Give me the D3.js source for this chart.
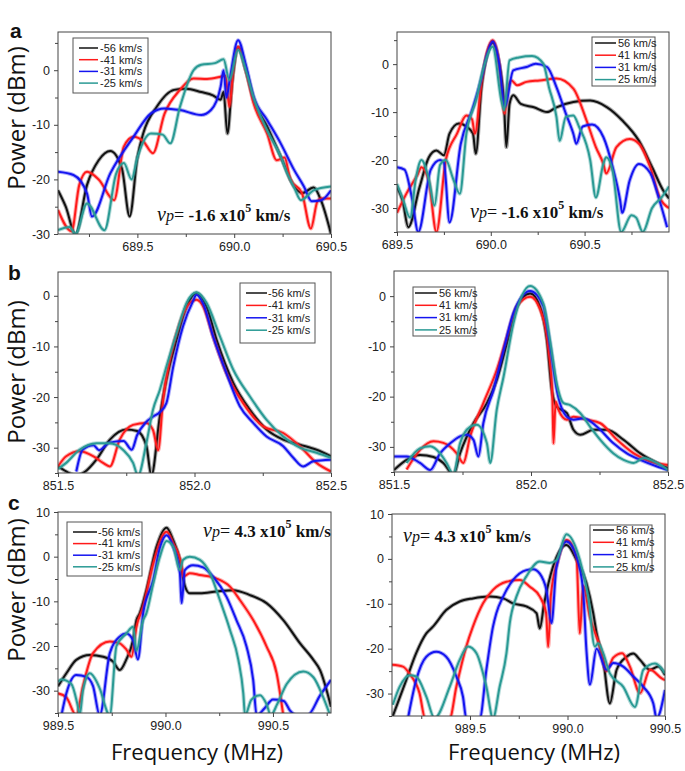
<!DOCTYPE html>
<html><head><meta charset="utf-8">
<script src="https://cdn.jsdelivr.net/npm/d3@7"></script>
<style>body{margin:0;background:#fff}svg{display:block}</style>
</head><body><svg id="c" width="685" height="771"></svg>
<script>
// ---------- DATA ----------
const labelsNeg = ["-56 km/s", "-41 km/s", "-31 km/s", "-25 km/s"];
const labelsPos = ["56 km/s", "41 km/s", "31 km/s", "25 km/s"];
const seriesColors = ["#111111", "#ff1a1a", "#1414f0", "#2a9a94"];
const yLabel = "Power (dBm)";
const xLabel = "Frequency (MHz)";
const panelLetters = ["a", "b", "c"];
const vpA = "-1.6 x10", vpC = "4.3 x10";

const xTicksA1 = [689.5, 690.0, 690.5], xMinorA1 = [689.25, 689.75, 690.25];
const xTicksA2 = [689.5, 690.0, 690.5], xMinorA2 = [689.75, 690.25, 690.75];
const xTicksB = [851.5, 852.0, 852.5], xMinorB = [851.75, 852.25];
const xTicksC1 = [989.5, 990.0, 990.5], xMinorC1 = [989.75, 990.25, 990.75];
const xTicksC2 = [989.5, 990.0, 990.5], xMinorC2 = [989.25, 989.75, 990.25];
const yTicksA = [-30, -20, -10, 0], yMinorA = [-35, -25, -15, -5, 5];
const yTicksB = [-30, -20, -10, 0], yMinorB = [-35, -25, -15, -5];
const yTicksC = [-30, -20, -10, 0, 10], yMinorC = [-35, -25, -15, -5, 5];

// panel a, left (vp = -1.6e5, negative speeds)
const a1Black = [[689.09,-22],[689.13,-25],[689.18,-30],[689.24,-21],[689.30,-16.5],[689.36,-14.8],[689.42,-18],[689.46,-26.8],[689.50,-16],[689.53,-11.6],[689.60,-6.7],[689.69,-3.6],[689.75,-3.4],[689.83,-4],[689.89,-4.6],[689.93,-5.4],[689.945,-4],[689.965,-11.6],[689.99,-2],[690.02,4.2],[690.06,0],[690.10,-5.4],[690.17,-10.3],[690.24,-15.8],[690.31,-21.3],[690.35,-22.5],[690.41,-21.5],[690.45,-24],[690.50,-30]];
const a1Red = [[689.09,-25.6],[689.16,-29.5],[689.20,-21],[689.24,-18.6],[689.30,-20],[689.38,-23.8],[689.43,-14],[689.48,-12.2],[689.53,-13],[689.58,-15.2],[689.64,-8],[689.72,-3.6],[689.79,-1.5],[689.86,-1.6],[689.93,-1.2],[689.955,-1],[689.975,-6.7],[689.995,0],[690.02,4.3],[690.06,0],[690.10,-6],[690.17,-11.6],[690.22,-16.5],[690.26,-16],[690.29,-20],[690.35,-22.5],[690.396,-29],[690.43,-24],[690.45,-23.5],[690.50,-23.5]];
const a1Blue = [[689.09,-18.6],[689.17,-19.2],[689.24,-22.6],[689.265,-26.8],[689.36,-18.9],[689.48,-12.2],[689.57,-7.9],[689.64,-7],[689.72,-7.3],[689.83,-8.2],[689.88,-7.3],[689.93,-3],[689.945,0],[689.96,-5],[689.98,-1],[690.02,5.5],[690.06,1],[690.10,-4.8],[690.17,-9.1],[690.24,-13.4],[690.31,-18.3],[690.36,-21.3],[690.40,-24],[690.45,-23.8],[690.50,-22]];
const a1Teal = [[689.09,-29.3],[689.15,-28.7],[689.18,-30],[689.24,-24.4],[689.33,-29.3],[689.39,-19],[689.43,-17],[689.47,-20],[689.50,-16],[689.57,-11.6],[689.63,-11.8],[689.67,-13.4],[689.72,-6.7],[689.79,0],[689.83,1],[689.90,1.3],[689.945,2],[689.975,-1.8],[690.02,3.7],[690.06,0],[690.10,-5],[690.17,-11],[690.24,-15.8],[690.275,-19],[690.31,-21.5],[690.345,-23.8],[690.41,-22],[690.50,-21.3]];

// panel a, right (positive speeds)
const a2Black = [[689.5,-25.7],[689.53,-28.5],[689.56,-34],[689.62,-25.7],[689.67,-19.4],[689.71,-18],[689.75,-19],[689.78,-14.5],[689.83,-12.4],[689.87,-13],[689.905,-14.5],[689.92,-18.7],[689.95,-5],[689.98,2],[690.01,4.5],[690.04,1],[690.07,-8],[690.083,-17.3],[690.10,-8.3],[690.12,-6.5],[690.16,-8.3],[690.23,-9],[690.30,-10],[690.35,-9],[690.44,-7.9],[690.53,-7.6],[690.62,-9],[690.70,-11.7],[690.79,-16],[690.86,-21.5],[690.92,-26.4],[690.95,-28]];
const a2Red = [[689.5,-31],[689.55,-27],[689.61,-23],[689.63,-21.5],[689.67,-24.5],[689.71,-35],[689.76,-20],[689.82,-14.5],[689.87,-10.7],[689.90,-11.5],[689.915,-14.5],[689.95,-4],[689.98,2.5],[690.01,5],[690.045,0],[690.074,-10.3],[690.09,-5.5],[690.11,-3.4],[690.14,-4.4],[690.19,-3.7],[690.26,-3.4],[690.35,-3],[690.44,-5.1],[690.51,-11.7],[690.56,-17.3],[690.60,-20.8],[690.615,-22.8],[690.67,-17.3],[690.74,-15.6],[690.79,-16.6],[690.85,-21.5],[690.90,-27.8],[690.95,-30]];
const a2Blue = [[689.5,-21.5],[689.54,-22],[689.58,-28],[689.613,-35],[689.68,-22],[689.73,-20],[689.75,-20.5],[689.78,-33],[689.84,-16.6],[689.90,-9.6],[689.95,-3],[689.98,2],[690.01,4.7],[690.045,0],[690.074,-8.9],[690.12,-1.3],[690.19,-0.6],[690.24,0.1],[690.30,-0.6],[690.35,-4.8],[690.40,-10.3],[690.44,-14.5],[690.456,-16.6],[690.49,-13],[690.54,-12.6],[690.60,-15.2],[690.65,-21.5],[690.69,-28.5],[690.70,-31],[690.74,-24.3],[690.79,-20.8],[690.85,-22.7],[690.90,-28.5],[690.94,-34]];
const a2Teal = [[689.5,-25],[689.53,-28],[689.57,-32],[689.60,-24],[689.63,-20],[689.67,-24],[689.70,-29.5],[689.73,-21],[689.76,-20],[689.80,-24],[689.835,-27],[689.87,-14.5],[689.92,-7.7],[689.96,-1],[690.01,3.6],[690.057,-7.7],[690.071,-9.6],[690.10,0.8],[690.15,1.4],[690.22,1.7],[690.28,0.1],[690.31,-4.8],[690.35,-11],[690.367,-16],[690.40,-11],[690.44,-10.7],[690.47,-13],[690.53,-20],[690.56,-27.8],[690.60,-20.8],[690.615,-19.4],[690.65,-22.4],[690.695,-35],[690.75,-31.5],[690.775,-32],[690.81,-35],[690.86,-30],[690.91,-27.8],[690.95,-25.5]];

// panel b, left
const b1Black = [[851.5,-33.7],[851.53,-34.7],[851.567,-35.5],[851.60,-34.7],[851.64,-32.4],[851.69,-28.4],[851.75,-26.4],[851.79,-26.7],[851.824,-29.7],[851.842,-35.5],[851.873,-23.8],[851.897,-16.6],[851.934,-8.7],[851.971,-2.1],[852.007,0.5],[852.044,-2.1],[852.081,-8.7],[852.142,-17.2],[852.203,-22.5],[852.264,-26.4],[852.325,-28.4],[852.386,-29.4],[852.447,-30.4],[852.5,-31.7]];
const b1Red = [[851.5,-33.7],[851.53,-31.7],[851.58,-30.7],[851.63,-31.7],[851.665,-33],[851.69,-33.7],[851.726,-28.4],[851.775,-25.5],[851.824,-25.1],[851.848,-26.5],[851.867,-30.5],[851.885,-20.5],[851.91,-12.6],[851.946,-5.4],[851.983,-1.4],[852.007,-0.8],[852.032,-2.1],[852.068,-8],[852.117,-15.3],[852.178,-21.2],[852.252,-25.8],[852.325,-27.1],[852.386,-29.7],[852.447,-33],[852.5,-34.7]];
const b1Blue = [[851.567,-34.7],[851.59,-30.4],[851.63,-29.5],[851.65,-30.5],[851.689,-29],[851.74,-28.7],[851.77,-30.4],[851.79,-27.5],[851.82,-25.1],[851.85,-23.8],[851.873,-23],[851.897,-21.2],[851.922,-14],[851.958,-6],[851.995,-1],[852.007,0.2],[852.032,-1.6],[852.068,-8],[852.117,-15.3],[852.166,-21.8],[852.215,-25.1],[852.264,-27.8],[852.325,-29.7],[852.362,-32],[852.398,-33.7],[852.435,-32.7],[852.5,-32.4]];
const b1Teal = [[851.5,-34.2],[851.53,-33],[851.579,-30.4],[851.641,-29.1],[851.689,-29.1],[851.738,-30.4],[851.775,-33],[851.793,-35.5],[851.824,-29],[851.848,-22.5],[851.873,-18.6],[851.897,-14],[851.934,-7.4],[851.971,-1.4],[852.007,0.7],[852.044,-1.4],[852.093,-8],[852.142,-14.6],[852.203,-19.9],[852.264,-24.5],[852.325,-27.8],[852.386,-30],[852.447,-31],[852.5,-32]];

// panel b, right
const b2Black = [[851.5,-34.6],[851.546,-32.6],[851.595,-31.6],[851.644,-32],[851.68,-33.2],[851.717,-35.5],[851.741,-31.3],[851.79,-25.3],[851.839,-21.3],[851.875,-16.7],[851.912,-9.4],[851.948,-2.1],[851.997,0.5],[852.033,-2.1],[852.058,-8.7],[852.076,-18.7],[852.094,-22],[852.131,-23.3],[852.155,-26.6],[852.18,-27.6],[852.228,-26.6],[852.277,-26.6],[852.338,-28.6],[852.399,-31.3],[852.46,-33.2],[852.5,-34.2]];
const b2Red = [[851.546,-34.5],[851.595,-30.6],[851.644,-28.9],[851.68,-29.2],[851.729,-31.3],[851.753,-33.2],[851.778,-27.9],[851.826,-21.3],[851.875,-14.7],[851.912,-8.1],[851.948,-2.1],[851.997,-0.1],[852.033,-2.6],[852.064,-10.7],[852.078,-20],[852.082,-29.3],[852.09,-21],[852.1,-22.6],[852.131,-24.6],[852.155,-24],[852.204,-24.6],[852.253,-25.3],[852.314,-28.6],[852.375,-31.3],[852.435,-32.9],[852.5,-33.6]];
const b2Blue = [[851.5,-31.9],[851.546,-31.9],[851.595,-33.2],[851.632,-34.6],[851.668,-31.3],[851.705,-29.3],[851.741,-27.9],[851.765,-27.6],[851.79,-28.6],[851.808,-31.9],[851.826,-25.3],[851.863,-18.7],[851.9,-10.7],[851.936,-3.4],[851.997,1],[852.045,-2],[852.07,-10],[852.094,-18.7],[852.131,-24],[852.155,-24.6],[852.192,-24.3],[852.241,-26],[852.301,-29.3],[852.35,-31.3],[852.399,-32.6],[852.46,-33.9],[852.5,-34.6]];
const b2Teal = [[851.546,-33.2],[851.595,-30.3],[851.632,-29.9],[851.668,-31.3],[851.692,-33.2],[851.717,-35.5],[851.741,-29.3],[851.778,-26],[851.802,-25.6],[851.839,-29.3],[851.851,-33.2],[851.875,-22.6],[851.9,-16],[851.936,-5.4],[851.997,2],[852.045,-1.5],[852.07,-9],[852.094,-17.4],[852.119,-21.3],[852.143,-21.7],[852.18,-23.3],[852.216,-26],[852.253,-28.6],[852.301,-31.3],[852.338,-32.6],[852.375,-33.2],[852.411,-32.2],[852.46,-33.2],[852.5,-34.6]];

// panel c, left (vp = 4.3e5)
const c1Black = [[989.5,-29],[989.539,-26.1],[989.585,-23.1],[989.648,-22],[989.71,-22.4],[989.756,-23.5],[989.787,-25.4],[989.818,-23],[989.849,-18.7],[989.865,-14.2],[989.88,-12.7],[989.911,-7.5],[989.958,2.2],[990.005,6.5],[990.036,3.7],[990.067,-0.7],[990.09,-6.5],[990.113,-8.2],[990.16,-8.2],[990.238,-7.8],[990.315,-7.5],[990.393,-8.6],[990.47,-10.4],[990.548,-14.2],[990.626,-19.4],[990.688,-23.1],[990.719,-25.4],[990.77,-33.6]];
const c1Red = [[989.5,-30.6],[989.539,-31.5],[989.585,-35.5],[989.616,-29],[989.663,-21.6],[989.741,-19],[989.787,-19.4],[989.818,-20.8],[989.842,-22.4],[989.865,-15.7],[989.896,-11.2],[989.943,-1.5],[990.005,5.6],[990.036,3],[990.075,-2.2],[990.082,-4.5],[990.113,-3.7],[990.16,-4.1],[990.238,-4.9],[990.3,-6.7],[990.346,-9.7],[990.408,-14.2],[990.47,-20.1],[990.517,-26.1],[990.548,-35.5]];
const c1Blue = [[989.516,-35.5],[989.539,-30.6],[989.585,-26.5],[989.632,-26.9],[989.663,-29],[989.694,-35.5],[989.741,-21.6],[989.787,-17.9],[989.818,-17.2],[989.849,-18.7],[989.872,-23],[989.896,-12.7],[989.943,-5.2],[989.974,2],[990.005,4.8],[990.036,2.2],[990.067,-3.7],[990.075,-10.4],[990.09,-3],[990.128,-1.9],[990.175,-2.4],[990.222,-4.5],[990.284,-9],[990.33,-14.2],[990.377,-20.1],[990.408,-27.6],[990.424,-35.5],[990.46,-34],[990.5,-32],[990.55,-32.3],[990.58,-34.5],[990.61,-35.5],[990.66,-35.5],[990.72,-31],[990.77,-27.6]];
const c1Teal = [[989.5,-28],[989.516,-27.5],[989.562,-28.5],[989.59,-33],[989.601,-35.5],[989.616,-30],[989.648,-26.1],[989.68,-28],[989.694,-29.5],[989.741,-35.5],[989.772,-20],[989.818,-17.2],[989.849,-15.7],[989.865,-21],[989.896,-14.2],[989.911,-12.7],[989.943,-6],[989.974,0],[990.005,3.5],[990.036,2.2],[990.067,-3],[990.082,-0.7],[990.113,0],[990.16,-0.7],[990.207,-3.7],[990.253,-9.7],[990.3,-16.4],[990.339,-23.1],[990.362,-30.6],[990.37,-35.5],[990.4,-32],[990.44,-31],[990.47,-33],[990.49,-35.5],[990.52,-33],[990.564,-28.5],[990.641,-25.7],[990.688,-27],[990.734,-31.5],[990.766,-35.5]];

// panel c, right
const c2Black = [[989.104,-35],[989.13,-32],[989.173,-27],[989.224,-21],[989.276,-16.6],[989.31,-15.1],[989.378,-11.4],[989.447,-9.5],[989.515,-8.8],[989.601,-8.4],[989.67,-8.8],[989.721,-9.9],[989.789,-10.6],[989.841,-12.1],[989.858,-15.5],[989.88,-10],[989.926,-1.7],[989.995,3.1],[990.046,-0.2],[990.097,-5.4],[990.132,-12.1],[990.149,-16.5],[990.183,-22.5],[990.217,-32.2],[990.252,-24.7],[990.303,-21.8],[990.337,-21.1],[990.372,-22.5],[990.423,-24.7],[990.466,-24],[990.5,-25.9]];
const c2Red = [[989.099,-23.6],[989.156,-24],[989.19,-25.6],[989.241,-29.9],[989.27,-35.5],[989.396,-35.5],[989.43,-28.5],[989.481,-19.5],[989.515,-15.1],[989.567,-9.9],[989.618,-6.9],[989.687,-5.1],[989.755,-4.7],[989.807,-6.2],[989.858,-8.4],[989.89,-12],[989.901,-19.6],[989.915,-8],[989.95,-0.5],[989.995,4.2],[990.046,0.5],[990.063,-16.6],[990.08,-6],[990.115,-13],[990.166,-19.5],[990.2,-25],[990.235,-22],[990.28,-21],[990.32,-24],[990.372,-29.9],[990.423,-24.7],[990.483,-26.6],[990.5,-27]];
const c2Blue = [[989.182,-35.5],[989.224,-27],[989.276,-21.8],[989.327,-20.7],[989.378,-21.8],[989.43,-26.2],[989.464,-30.7],[989.481,-35.5],[989.55,-35.5],[989.584,-24.7],[989.618,-15.1],[989.635,-12.1],[989.67,-8.4],[989.721,-4.7],[989.789,-2.5],[989.824,-2.3],[989.858,-3.3],[989.892,-7],[989.918,-14.3],[989.943,-2],[989.995,3.9],[990.046,0.5],[990.08,-7],[990.097,-20.3],[990.115,-28],[990.149,-20],[990.2,-24.7],[990.235,-23.2],[990.286,-24],[990.337,-26.2],[990.389,-28.5],[990.44,-32.2],[990.457,-35.5],[990.5,-29.2]];
const c2Teal = [[989.104,-32.5],[989.139,-28.5],[989.19,-25.9],[989.224,-26.2],[989.276,-30.7],[989.318,-35.5],[989.396,-28.5],[989.447,-22.5],[989.49,-19.5],[989.533,-21],[989.584,-28.5],[989.618,-35.5],[989.652,-28.5],[989.687,-21],[989.704,-14.3],[989.738,-8.4],[989.789,-3.9],[989.858,-0.6],[989.909,-0.9],[989.943,-0.3],[989.995,5.5],[990.063,-0.2],[990.106,-8.4],[990.14,-19.5],[990.158,-18.8],[990.183,-21],[990.217,-25.5],[990.286,-28.5],[990.346,-33],[990.389,-24.7],[990.449,-23.3],[990.5,-25.5]];

// ---------- LAYOUT ----------
const panels = [
  {l:58,r:331,t:32,b:234, xd:[689.09,690.5], yd:[-30,7], xt:xTicksA1, xm:xMinorA1, yt:yTicksA, ym:yMinorA,
   series:[a1Black,a1Red,a1Blue,a1Teal], labels:labelsNeg,
   leg:{x:73,y:38,w:75,h:55,l1:79,l2:98,tx:100,y0:48,dy:11.7}, vp:{x:157,y:221,v:vpA}},
  {l:397,r:669,t:32,b:232, xd:[689.5,690.95], yd:[-35,6.7], xt:xTicksA2, xm:xMinorA2, yt:yTicksA, ym:yMinorA,
   series:[a2Black,a2Red,a2Blue,a2Teal], labels:labelsPos,
   leg:{x:592,y:37,w:63,h:49,l1:595,l2:616,tx:618,y0:43,dy:12.2}, vp:{x:470,y:218,v:vpA}},
  {l:58,r:331,t:272,b:473, xd:[851.5,852.5], yd:[-35,4.7], xt:xTicksB, xm:xMinorB, yt:yTicksB, ym:yMinorB,
   series:[b1Black,b1Red,b1Blue,b1Teal], labels:labelsNeg,
   leg:{x:240,y:283,w:75,h:60,l1:246,l2:267,tx:268,y0:293,dy:12.4}},
  {l:394,r:668,t:271,b:472, xd:[851.5,852.5], yd:[-35,5], xt:xTicksB, xm:xMinorB, yt:yTicksB, ym:yMinorB,
   series:[b2Black,b2Red,b2Blue,b2Teal], labels:labelsPos,
   leg:{x:413,y:287,w:62,h:49,l1:415,l2:437,tx:439,y0:293,dy:12.3}},
  {l:58,r:331,t:512,b:713, xd:[989.5,990.77], yd:[-35,10], xt:xTicksC1, xm:xMinorC1, yt:yTicksC, ym:yMinorC,
   series:[c1Black,c1Red,c1Blue,c1Teal], labels:labelsNeg,
   leg:{x:67,y:522,w:75,h:54,l1:73,l2:97,tx:98,y0:532,dy:11.6}, vp:{x:203,y:537,v:vpC}},
  {l:392,r:665,t:514,b:716, xd:[989.1,990.5], yd:[-35,10], xt:xTicksC2, xm:xMinorC2, yt:yTicksC, ym:yMinorC,
   series:[c2Black,c2Red,c2Blue,c2Teal], labels:labelsPos,
   leg:{x:590,y:525,w:62,h:47,l1:593,l2:614,tx:616,y0:530,dy:12.3}, vp:{x:403,y:542,v:vpC}}
];

const svg = d3.select("#c");
const sans = "Liberation Sans, Arial, sans-serif";
const fmtY = d => String(d);
const fmtX = d => d.toFixed(1);

panels.forEach((p, i) => {
  const x = d3.scaleLinear().domain(p.xd).range([p.l, p.r]);
  const y = d3.scaleLinear().domain(p.yd).range([p.b, p.t]);
  const g = svg.append("g");
  const cid = "clip" + i;
  svg.append("clipPath").attr("id", cid).append("rect")
    .attr("x", p.l).attr("y", p.t).attr("width", p.r - p.l).attr("height", p.b - p.t);
  const line = d3.line().curve(d3.curveMonotoneX).x(d => x(d[0])).y(d => y(d[1]));
  const gl = g.append("g").attr("clip-path", `url(#${cid})`);
  p.series.forEach((s, j) => {
    gl.append("path").datum(s).attr("d", line).attr("fill", "none")
      .attr("stroke", seriesColors[j]).attr("stroke-width", 4).attr("stroke-opacity", 0.35)
      .attr("stroke-linejoin", "round");
    gl.append("path").datum(s).attr("d", line).attr("fill", "none")
      .attr("stroke", seriesColors[j]).attr("stroke-width", 2)
      .attr("stroke-linejoin", "round");
  });
  // frame
  g.append("rect").attr("x", p.l).attr("y", p.t).attr("width", p.r - p.l).attr("height", p.b - p.t)
    .attr("fill", "none").attr("stroke", "#444").attr("stroke-width", 1);
  // axes
  const ax = g.append("g").attr("transform", `translate(0,${p.b})`)
    .call(d3.axisBottom(x).tickValues(p.xt).tickFormat(fmtX).tickSize(4).tickPadding(4));
  const axm = g.append("g").attr("transform", `translate(0,${p.b})`)
    .call(d3.axisBottom(x).tickValues(p.xm).tickFormat("").tickSize(3));
  const ay = g.append("g").attr("transform", `translate(${p.l},0)`)
    .call(d3.axisLeft(y).tickValues(p.yt).tickFormat(fmtY).tickSize(4).tickPadding(4));
  const aym = g.append("g").attr("transform", `translate(${p.l},0)`)
    .call(d3.axisLeft(y).tickValues(p.ym.filter(v => v >= p.yd[0] && v <= p.yd[1])).tickFormat("").tickSize(3));
  [ax, axm, ay, aym].forEach(a => {
    a.select(".domain").remove();
    a.selectAll("line").attr("stroke", "#444");
    a.selectAll("text").attr("font-family", sans).attr("font-size", 12.5).attr("fill", "#222");
  });
  // legend
  const L = p.leg;
  g.append("rect").attr("x", L.x).attr("y", L.y).attr("width", L.w).attr("height", L.h)
    .attr("fill", "#fff").attr("stroke", "#555").attr("stroke-width", 1);
  p.labels.forEach((lab, j) => {
    const yy = L.y0 + j * L.dy;
    g.append("line").attr("x1", L.l1).attr("x2", L.l2).attr("y1", yy).attr("y2", yy)
      .attr("stroke", seriesColors[j]).attr("stroke-width", 1.5);
    g.append("text").attr("x", L.tx).attr("y", yy).attr("dy", "0.35em")
      .attr("font-family", sans).attr("font-size", 11).attr("fill", "#222").text(lab);
  });
  // vp annotation
  if (p.vp) {
    const t = g.append("text").attr("x", p.vp.x).attr("y", p.vp.y)
      .attr("font-family", "Liberation Serif, Times New Roman, serif").attr("fill", "#111");
    t.append("tspan").attr("font-style", "italic").attr("font-size", 20).text("ν");
    t.append("tspan").attr("font-style", "italic").attr("font-size", 16).text("p");
    t.append("tspan").attr("font-size", 18).text("= ");
    t.append("tspan").attr("font-weight", "bold").attr("font-size", 17).text(p.vp.v);
    t.append("tspan").attr("font-weight", "bold").attr("font-size", 12).attr("dy", -9).text("5");
    t.append("tspan").attr("font-weight", "bold").attr("font-size", 17).attr("dy", 9).text(" km/s");
  }
});

// y-axis labels
[118, 372, 590].forEach(cy => {
  svg.append("text").attr("transform", `translate(25,${cy}) rotate(-90)`)
    .attr("text-anchor", "middle").attr("font-family", "Open Sans, sans-serif")
    .attr("font-size", 24).attr("fill", "#111").text(yLabel);
});
// x-axis labels
[197, 534].forEach(cx => {
  svg.append("text").attr("x", cx).attr("y", 760).attr("text-anchor", "middle")
    .attr("font-family", "Open Sans, sans-serif").attr("font-size", 22).attr("fill", "#111").text(xLabel);
});
// panel letters
[[10, 38], [8, 280], [8, 510]].forEach((pos, k) => {
  svg.append("text").attr("x", pos[0]).attr("y", pos[1])
    .attr("font-family", sans).attr("font-weight", "bold").attr("font-size", 21)
    .attr("fill", "#111").text(panelLetters[k]);
});
</script></body></html>
